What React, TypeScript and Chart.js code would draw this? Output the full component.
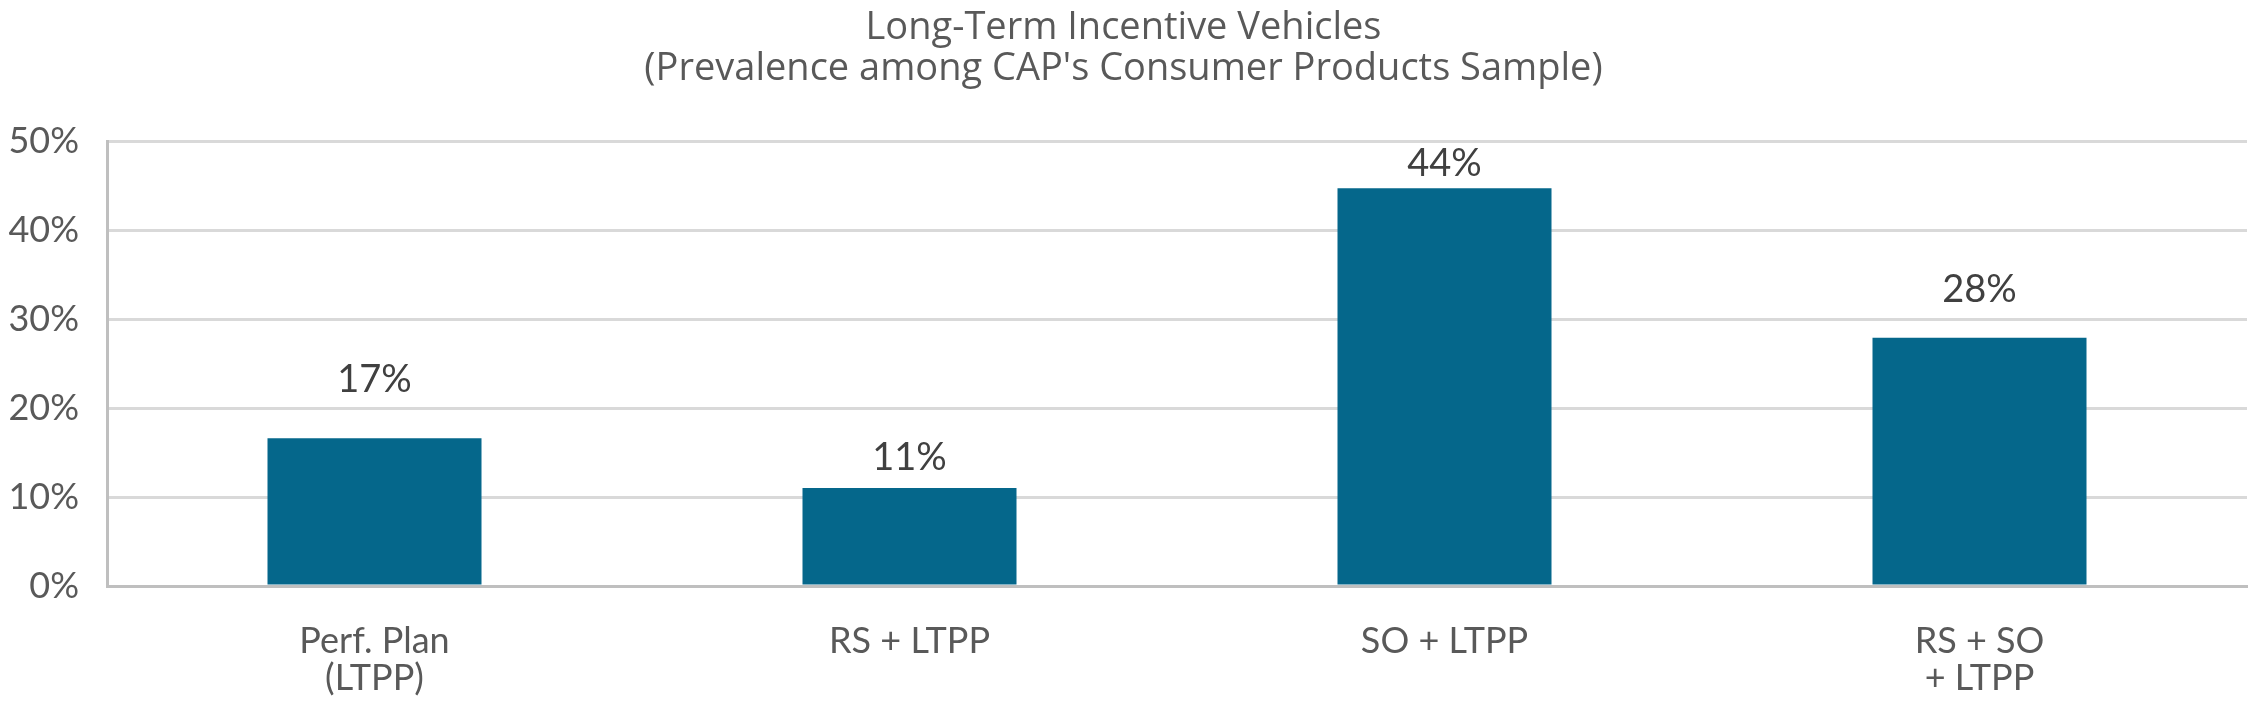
import React, { useEffect, useRef } from "react";
import { Chart, registerables } from "chart.js";

Chart.register(...registerables);

const titleLines = ["Long-Term Incentive Vehicles", "(Prevalence among CAP's Consumer Products Sample)"];
const categories: (string | string[])[] = [["Perf. Plan", "(LTPP)"], "RS + LTPP", "SO + LTPP", ["RS + SO", "+ LTPP"]];
const prevalence = [16.6, 11.0, 44.7, 27.9];
const valueLabels = ["17%", "11%", "44%", "28%"];
const yTicks = [0, 10, 20, 30, 40, 50];

const FONT = "Lato, 'Open Sans', sans-serif";
const TITLE_FONT = "'Open Sans', Lato, sans-serif";

const labelPlugin = {
  id: "barValueLabels",
  afterDatasetsDraw(chart: any, _args: any, opts: any) {
    const ctx = chart.ctx;
    const meta = chart.getDatasetMeta(0);
    ctx.save();
    ctx.font = `${opts.size}px ${FONT}`;
    ctx.fillStyle = opts.color;
    ctx.textAlign = "center";
    ctx.textBaseline = "alphabetic";
    meta.data.forEach((bar: any, i: number) => {
      const lift = opts.lift[i] ?? 20;
      ctx.fillText(valueLabels[i], bar.x, bar.y - lift);
    });
    ctx.restore();
  },
};

export default function App() {
  const ref = useRef<HTMLCanvasElement | null>(null);
  useEffect(() => {
    if (!ref.current) return;
    const chart = new Chart(ref.current, {
      type: "bar",
      data: {
        labels: categories,
        datasets: [
          {
            data: prevalence,
            backgroundColor: "#05678B",
            borderWidth: 0,
            barPercentage: 0.4,
            categoryPercentage: 1,
          },
        ],
      },
      plugins: [labelPlugin],
      options: {
        animation: false,
        responsive: true,
        maintainAspectRatio: false,
        layout: { padding: { left: 0, right: 3, top: 0, bottom: 0 } },
        plugins: {
          legend: { display: false },
          tooltip: { enabled: false },
          title: {
            display: true,
            text: titleLines,
            color: "#595959",
            font: { family: TITLE_FONT, size: 38, weight: "normal", lineHeight: 1.08 },
            padding: { top: 8, bottom: 51 },
          },
          barValueLabels: { size: 38, color: "#404040", lift: [46, 18, 12, 36] },
        } as any,
        scales: {
          x: {
            grid: { display: false },
            border: { display: true, color: "#BFBFBF", width: 3 },
            ticks: {
              color: "#595959",
              font: { family: FONT, size: 36, lineHeight: 1.03 },
              padding: 29,
              maxRotation: 0,
              autoSkip: false,
            },
            afterFit: (s: any) => {
              s.height = 117;
            },
          },
          y: {
            min: 0,
            max: 50,
            afterBuildTicks: (s: any) => {
              s.ticks = yTicks.map((v) => ({ value: v }));
            },
            grid: { color: "#D9D9D9", lineWidth: 3, drawTicks: false },
            border: { display: true, color: "#BFBFBF", width: 3 },
            ticks: {
              color: "#595959",
              font: { family: FONT, size: 36 },
              padding: 28,
              callback: (v: any) => `${v}%`,
            },
            afterFit: (s: any) => {
              s.width = 107;
            },
          },
        },
      },
    });
    return () => chart.destroy();
  }, []);
  return (
    <div style={{ position: "fixed", left: 0, top: 0, width: 2250, height: 703, background: "#fff" }}>
      <canvas ref={ref} />
    </div>
  );
}
